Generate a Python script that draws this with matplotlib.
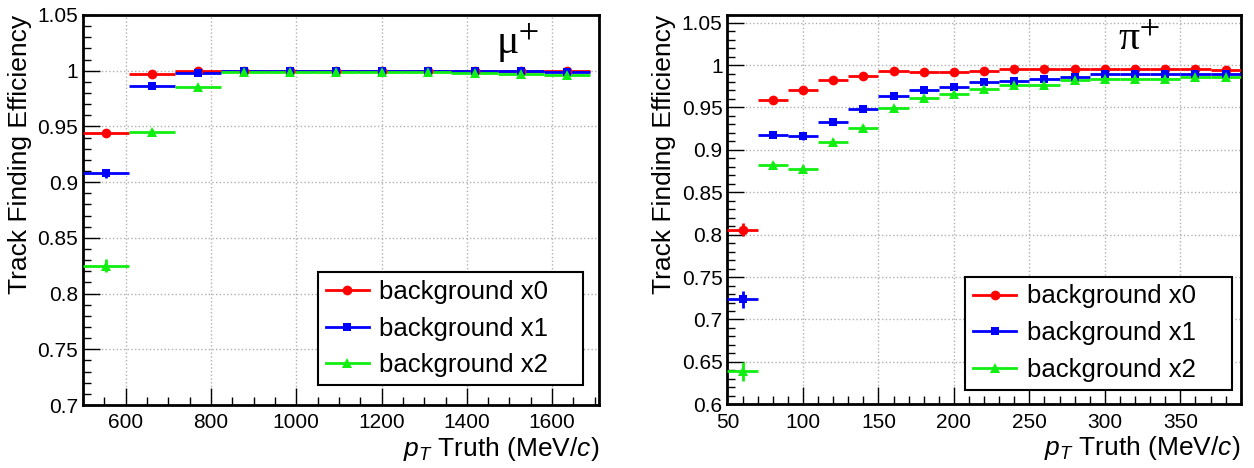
import numpy as np
import matplotlib
matplotlib.use("Agg")
import matplotlib.pyplot as plt
from matplotlib.lines import Line2D
from matplotlib.ticker import MultipleLocator

plt.rcParams['font.family'] = ['Liberation Sans', 'DejaVu Sans']
plt.rcParams['mathtext.fontset'] = 'custom'
plt.rcParams['mathtext.it'] = 'Liberation Sans:italic'
plt.rcParams['mathtext.rm'] = 'Liberation Sans'

# ---- data: muon (left) ----
mu_edges = [500, 608, 716, 824, 932, 1040, 1148, 1256, 1364, 1472, 1580, 1688]
mu_bg0 = [0.944, 0.997, 1.000, 1.000, 1.000, 1.000, 1.000, 1.000, 1.000, 1.000, 1.000]
mu_bg1 = [0.908, 0.986, 0.998, 1.000, 1.000, 1.000, 1.000, 1.000, 0.9995, 0.9995, 0.999]
mu_bg2 = [0.825, 0.945, 0.985, 0.999, 0.999, 0.999, 0.999, 0.999, 0.9975, 0.9967, 0.996]
mu_err0 = [0.003, 0.001, 0.0005, 0.0005, 0.0005, 0.0005, 0.0005, 0.0005, 0.0005, 0.0005, 0.0005]
mu_err1 = [0.004, 0.002, 0.001, 0.0005, 0.0005, 0.0005, 0.0005, 0.0005, 0.0007, 0.0007, 0.0008]
mu_err2 = [0.006, 0.003, 0.002, 0.0008, 0.0008, 0.0008, 0.0008, 0.0008, 0.001, 0.001, 0.001]

# ---- data: pion (right) ----
pi_edges = list(range(50, 391, 20))
pi_bg0 = [0.806, 0.959, 0.971, 0.982, 0.987, 0.993, 0.992, 0.992, 0.993, 0.995,
          0.995, 0.995, 0.9955, 0.9955, 0.995, 0.9955, 0.994]
pi_bg1 = [0.724, 0.918, 0.916, 0.933, 0.948, 0.964, 0.971, 0.9745, 0.980, 0.981,
          0.983, 0.986, 0.990, 0.990, 0.990, 0.990, 0.990]
pi_bg2 = [0.639, 0.882, 0.878, 0.909, 0.926, 0.949, 0.961, 0.966, 0.972, 0.976,
          0.976, 0.982, 0.984, 0.984, 0.983, 0.986, 0.986]
pi_err0 = [0.008, 0.003, 0.003, 0.002, 0.002, 0.0015, 0.0015, 0.0015, 0.0015, 0.001,
           0.001, 0.001, 0.001, 0.001, 0.001, 0.001, 0.001]
pi_err1 = [0.010, 0.004, 0.004, 0.003, 0.003, 0.002, 0.002, 0.002, 0.002, 0.002,
           0.0015, 0.0015, 0.0015, 0.0015, 0.0015, 0.0015, 0.0015]
pi_err2 = [0.011, 0.004, 0.004, 0.004, 0.003, 0.003, 0.002, 0.002, 0.002, 0.002,
           0.002, 0.002, 0.002, 0.002, 0.002, 0.002, 0.002]

labels = ["background x0", "background x1", "background x2"]
colors = ["#ff0000", "#0000ff", "#11ee11"]
markers = ["o", "s", "^"]
msizes = [7, 5.5, 7.5]


def draw(ax, edges, series, errs, xlim, ylim, xmaj, xmin, particle, leg_box, txt_pos):
    edges = np.array(edges, dtype=float)
    centers = 0.5 * (edges[:-1] + edges[1:])
    half = 0.5 * np.diff(edges)
    for vals, err, c, m, ms in zip(series, errs, colors, markers, msizes):
        ax.errorbar(centers, vals, xerr=half, yerr=err, fmt=m, color=c, ms=ms,
                    elinewidth=2, capsize=0, mew=0, zorder=3)
    ax.set_xlim(*xlim)
    ax.set_ylim(*ylim)
    ax.xaxis.set_major_locator(MultipleLocator(xmaj))
    ax.xaxis.set_minor_locator(MultipleLocator(xmin))
    ax.yaxis.set_major_locator(MultipleLocator(0.05))
    ax.yaxis.set_minor_locator(MultipleLocator(0.01))
    ax.yaxis.set_major_formatter(plt.FuncFormatter(lambda v, p: f"{v:.2f}".rstrip('0').rstrip('.')))
    ax.tick_params(which='both', direction='in', labelsize=15, top=False, right=False)
    ax.tick_params(which='major', length=12, width=1)
    ax.tick_params(which='minor', length=6, width=1)
    ax.tick_params(axis='x', pad=6)
    ax.grid(True, which='major', color='#b0b0b0', linestyle=':', linewidth=1)
    for s in ax.spines.values():
        s.set_linewidth(2)
    ax.set_ylabel("Track Finding Efficiency", fontsize=19, loc='top', labelpad=4)
    ax.set_xlabel(r"$p_{T}$ Truth (MeV/$c$)", fontsize=19, loc='right', labelpad=2)
    ax.text(txt_pos[0], txt_pos[1], particle + r"$^{+}$", transform=ax.transAxes,
            family='Liberation Serif', fontsize=30, math_fontfamily='stix',
            ha='left', va='top')
    handles = [Line2D([], [], color=c, marker=m, ms=ms, lw=2, mew=0)
               for c, m, ms in zip(colors, markers, msizes)]
    leg = ax.legend(handles, labels, loc='lower left', bbox_to_anchor=leg_box,
                    mode='expand', fontsize=18.5, frameon=True, fancybox=False,
                    framealpha=1, edgecolor='black', handlelength=1.7,
                    borderpad=0.3, labelspacing=0.5, handletextpad=0.4,
                    borderaxespad=0)
    leg.get_frame().set_linewidth(1.5)


fig = plt.figure(figsize=(12.54, 4.68), dpi=100)
ax1 = fig.add_axes([0.0662, 0.1346, 0.4115, 0.8334])
ax2 = fig.add_axes([0.5801, 0.1361, 0.4093, 0.8319])

draw(ax1, mu_edges, [mu_bg0, mu_bg1, mu_bg2], [mu_err0, mu_err1, mu_err2],
     (500, 1710), (0.7, 1.05), 200, 50, "μ", (0.455, 0.051, 0.514, 0.3),
     (0.80, 0.985))
draw(ax2, pi_edges, [pi_bg0, pi_bg1, pi_bg2], [pi_err0, pi_err1, pi_err2],
     (50, 390), (0.6, 1.059), 50, 10, "π", (0.463, 0.037, 0.520, 0.3),
     (0.76, 0.985))

fig.savefig("out.png", dpi=100)
